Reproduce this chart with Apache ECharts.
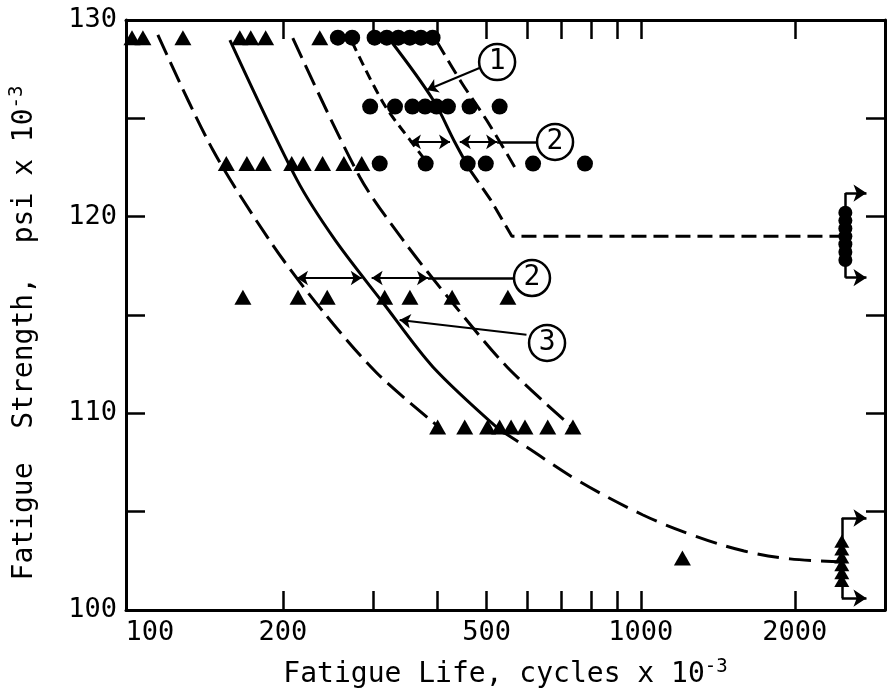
<!DOCTYPE html>
<html><head><meta charset="utf-8">
<script src="https://cdn.jsdelivr.net/npm/echarts@6/dist/echarts.min.js"></script>
<style>html,body{margin:0;padding:0;background:#fff}#c{width:892px;height:696px}</style>
</head><body><div id="c"></div>
<script>
// ---------- axes ----------
const xMin = 98.7, xMax = 3000;
const xTickValues = [200, 300, 400, 500, 600, 700, 800, 900, 1000, 2000];
const xLabelValues = [100, 200, 500, 1000, 2000];
const yMin = 100, yMax = 130, yStep = 5;
const yLabelValues = [100, 110, 120, 130];

// ---------- test points (fatigue life N x1e-3, strength S ksi) ----------
const triRow1N = [101.4, 106.5, 127.5, 164.7, 173, 185, 236];       const triRow1S = 129.1;
const cirRow1N = [256, 273, 302, 319, 336, 354, 372, 392];          const cirRow1S = 129.1;
const cirRow2N = [296, 331, 358, 379, 399, 420, 463, 530];          const cirRow2S = 125.6;
const triRow3N = [155, 170, 183, 208, 219, 239, 263, 285];          const triRow3S = 122.7;
const cirRow3N = [309, 380, 459, 498, 616, 778];                    const cirRow3S = 122.7;
const triRow4N = [167, 214, 244, 316, 354, 428, 550];               const triRow4S = 115.9;
const triRow5N = [401, 453, 502, 530, 558, 594, 658, 737];          const triRow5S = 109.3;
const triSingle = [[1206, 102.65]];
const runoutCirN = 2510; const runoutCirS = [120.2, 119.8, 119.4, 119.0, 118.6, 118.2, 117.8];
const runoutTriN = 2470; const runoutTriS = [103.5, 103.1, 102.7, 102.3, 101.9, 101.5];

// ---------- curves ----------
const curveT1 = [[113.9,129.24],[145.9,123.39],[191,118.56],[238,115.26],[305,112.05],[405,109.26]];
const curveT2 = [[157.5,128.98],[213,121.87],[252.7,118.82],[313.9,115.61],[392.6,112.36],[530,109.16]];
const curveT2ext = [[530,109.16],[598,108.29],[751,106.61],[1010,104.83],[1290,103.72],[1592,103.0],[1956,102.6],[2470,102.45]];
const curveT3 = [[209,129.08],[282.5,122.02],[343,118.82],[429,115.61],[548,112.36],[737,109.26]];
const curveC1 = [[273,128.88],[314,125.78],[354,123.9],[379,122.88]];
const curveC2 = [[326,128.88],[393,125.93],[433,123.8],[464,122.37]];
const curveC2ext = [[464,122.37],[509,120.85],[560,119.0],[2440,119.0]];
const curveC3 = [[400,128.88],[447,126.8],[500,124.9],[567,122.53]];

// ---------- annotations ----------
const calloutCircles = [{name:'1', value:[524,127.86]},{name:'2', value:[680,123.8]},{name:'2', value:[613,116.88]},{name:'3', value:[656,113.58]}];
const singleArrows = [[[484,127.56],[382,126.44]], [[598,113.99],[338,114.75]]];
const doubleArrows = [[[354,123.8],[424,123.8]], [[443,123.8],[524,123.8]], [[213,116.88],[285,116.88]], [[298,116.88],[384,116.88]]];
const plainLines = [[[524,123.8],[626,123.8]], [[384,116.88],[565,116.88]], [[2510,121.2],[2510,116.9]], [[2470,104.68],[2470,100.6]]];
const runoutArrows = [[[2510,121.2],[2760,121.2]], [[2510,116.9],[2760,116.9]], [[2470,104.68],[2760,104.68]], [[2470,100.6],[2760,100.6]]];

const FONT = 'DejaVu Sans Mono';
const BLACK = '#000';
const pair = (ns, s) => ns.map(n => [n, s]);

const triStyle = { type:'scatter', symbol:'triangle', symbolSize:[17,15], itemStyle:{color:BLACK, opacity:1}, z:3 };
const cirStyle = { type:'scatter', symbol:'circle', symbolSize:16, itemStyle:{color:BLACK, opacity:1}, z:3 };
function curve(data, dash, smooth) {
  return { type:'line', data, showSymbol:false, symbol:'none', smooth: smooth,
    lineStyle:{color:BLACK, width:3, type: dash, opacity:1}, z:2 };
}
function lines(data, sym, size, width) {
  return { type:'lines', coordinateSystem:'cartesian2d', data: data.map(c => ({coords:c})),
    symbol: sym, symbolSize: size, lineStyle:{color:BLACK, width: width, opacity:1, curveness:0},
    itemStyle:{color:BLACK, opacity:1}, z:4 };
}

const axisLineStyle = { color: BLACK, width: 3 };
const tickStyle = { color: BLACK, width: 2.5 };

const option = {
  animation: false,
  backgroundColor: '#fff',
  grid: { left: 126, right: 7, top: 20, bottom: 86 },
  xAxis: [
    { type:'log', min:xMin, max:xMax, position:'bottom',
      axisLine:{show:true, lineStyle:axisLineStyle},
      axisTick:{show:true, inside:true, length:19, customValues:xTickValues, lineStyle:tickStyle},
      minorTick:{show:false}, splitLine:{show:false},
      axisLabel:{customValues:xLabelValues, color:BLACK, fontFamily:FONT, fontSize:27, margin:9,
        formatter: v => v === 100 ? '{p|100}' : String(v),
        rich:{ p:{ padding:[0,0,0,42], color:BLACK, fontFamily:FONT, fontSize:27 } } },
      name:'{t|Fatigue Life, cycles x 10}{s|-3}', nameLocation:'middle', nameGap:48,
      nameTextStyle:{ rich:{ t:{fontFamily:FONT, fontSize:28, color:BLACK, lineHeight:34},
                             s:{fontFamily:FONT, fontSize:19, color:BLACK, lineHeight:16, verticalAlign:'top'} } } },
    { type:'log', min:xMin, max:xMax, position:'top',
      axisLine:{show:true, lineStyle:axisLineStyle},
      axisTick:{show:true, inside:true, length:19, customValues:xTickValues, lineStyle:tickStyle},
      minorTick:{show:false}, splitLine:{show:false}, axisLabel:{show:false} }
  ],
  yAxis: [
    { type:'value', min:yMin, max:yMax, interval:yStep, position:'left',
      axisLine:{show:true, lineStyle:axisLineStyle},
      axisTick:{show:true, inside:true, length:19, lineStyle:tickStyle},
      splitLine:{show:false},
      axisLabel:{color:BLACK, fontFamily:FONT, fontSize:27, margin:9,
        formatter: v => yLabelValues.indexOf(v) >= 0 ? String(v) : ''},
      name:'{t|Fatigue  Strength,  psi x 10}{s|-3}', nameLocation:'middle', nameRotate:90, nameGap:84,
      nameTextStyle:{ padding:[0, 36, 0, 0],
                      rich:{ t:{fontFamily:FONT, fontSize:28, color:BLACK, lineHeight:34},
                             s:{fontFamily:FONT, fontSize:19, color:BLACK, lineHeight:16, verticalAlign:'top'} } } },
    { type:'value', min:yMin, max:yMax, interval:yStep, position:'right',
      axisLine:{show:true, lineStyle:axisLineStyle},
      axisTick:{show:true, inside:true, length:19, lineStyle:tickStyle},
      splitLine:{show:false}, axisLabel:{show:false} }
  ],
  series: [
    curve(curveT1, [22,8], 0.3),
    curve(curveT2, 'solid', 0.3),
    curve(curveT2ext, [22,10], 0.35),
    curve(curveT3, [22,8], 0.3),
    curve(curveC1, [10,6], 0.35),
    curve(curveC2, 'solid', 0.35),
    curve(curveC2ext, [15,7], false),
    curve(curveC3, [15,7], 0.35),
    Object.assign({ data: pair(triRow1N, triRow1S) }, triStyle),
    Object.assign({ data: pair(cirRow1N, cirRow1S) }, cirStyle),
    Object.assign({ data: pair(cirRow2N, cirRow2S) }, cirStyle),
    Object.assign({ data: pair(triRow3N, triRow3S) }, triStyle),
    Object.assign({ data: pair(cirRow3N, cirRow3S) }, cirStyle),
    Object.assign({ data: pair(triRow4N, triRow4S) }, triStyle),
    Object.assign({ data: pair(triRow5N, triRow5S) }, triStyle),
    Object.assign({ data: triSingle }, triStyle),
    Object.assign({ data: runoutCirS.map(s => [runoutCirN, s]) }, cirStyle, {symbolSize:14}),
    Object.assign({ data: runoutTriS.map(s => [runoutTriN, s]) }, triStyle, {symbolSize:[15,13]}),
    lines(singleArrows, ['none','arrow'], 11, 2),
    lines(doubleArrows, ['arrow','arrow'], 11, 2),
    lines(plainLines, ['none','none'], 1, 2.5),
    lines(runoutArrows, ['none','arrow'], 13, 2.5),
    { type:'scatter', data: calloutCircles, symbol:'circle', symbolSize:36, z:6,
      itemStyle:{color:'#fff', borderColor:BLACK, borderWidth:2.5, opacity:1},
      label:{show:true, position:'inside', formatter: p => p.name, color:BLACK, fontFamily:FONT, fontSize:28} }
  ]
};
const chart = echarts.init(document.getElementById('c'));
chart.setOption(option);
</script></body></html>
